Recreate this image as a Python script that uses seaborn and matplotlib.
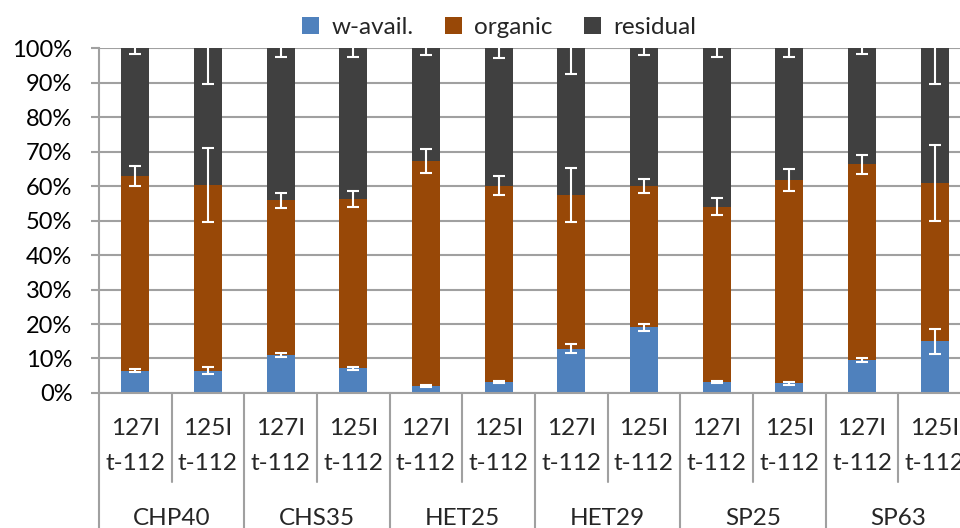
import numpy as np
import pandas as pd
import matplotlib.pyplot as plt
import seaborn as sns
from matplotlib.patches import Patch

# === DATA (percent of total) ===
groups = ["CHP40", "CHS35", "HET25", "HET29", "SP25", "SP63"]
isotopes = ["127I", "125I"]
sub_label = "t-112"

w_avail = [6.5, 6.5, 10.9, 7.2, 2.0, 3.2, 12.8, 19.1, 3.2, 2.8, 9.5, 15.0]
organic = [56.5, 53.8, 45.0, 49.0, 65.3, 56.9, 44.6, 40.9, 50.8, 58.9, 56.8, 45.8]
residual = [37.0, 39.7, 44.1, 43.8, 32.7, 39.9, 42.6, 40.0, 46.0, 38.3, 33.7, 39.2]

err_w = [0.5, 1.0, 0.6, 0.4, 0.3, 0.4, 1.3, 1.0, 0.4, 0.4, 0.5, 3.6]
err_org = [2.9, 10.7, 2.2, 2.4, 3.5, 2.8, 7.7, 2.1, 2.5, 3.1, 2.8, 11.0]
err_res = [1.8, 10.5, 2.5, 2.5, 2.0, 2.8, 7.6, 2.0, 2.5, 2.5, 1.7, 10.5]

colors = {"w-avail.": "#4F81BD", "organic": "#984807", "residual": "#404040"}
grid_col = "#A0A0A0"

# === BUILD TABLE ===
df = pd.DataFrame({
    "group": np.repeat(groups, len(isotopes)),
    "isotope": isotopes * len(groups),
    "w-avail.": w_avail,
    "organic": organic,
    "residual": residual,
})
df["sample"] = df["group"] + " " + df["isotope"]
df["top_w"] = df["w-avail."]
df["top_org"] = df["top_w"] + df["organic"]
df["top_res"] = df["top_org"] + df["residual"]

sns.set_theme(style="white")
plt.rcParams["font.family"] = ["Lato", "DejaVu Sans"]

fig = plt.figure(figsize=(9.6, 5.28), dpi=100)
ax = fig.add_axes([0.103, 0.2557, 0.9085, 0.6533])

# stacked bars: draw tallest first, then overlay
for col, key in [("top_res", "residual"), ("top_org", "organic"), ("top_w", "w-avail.")]:
    sns.barplot(data=df, x="sample", y=col, color=colors[key], saturation=1,
                width=0.385, linewidth=0, ax=ax, errorbar=None)

xs = np.arange(len(df))
for tops, errs in [(df["top_w"], err_w), (df["top_org"], err_org), (df["top_res"], err_res)]:
    ax.errorbar(xs, tops, yerr=errs, fmt="none", ecolor="white",
                elinewidth=1.5, capsize=4, capthick=1.5, zorder=5)

# axes styling
ax.set_xlim(-0.5, len(df) - 0.5)
ax.set_ylim(0, 100)
ax.set_yticks(range(0, 101, 10))
ax.set_yticklabels([f"{v}%" for v in range(0, 101, 10)])
ax.yaxis.grid(True, color=grid_col, linewidth=1.5)
ax.set_axisbelow(True)
ax.set_xlabel("")
ax.set_ylabel("")
ax.set_xticks([])
for s in ["top", "right"]:
    ax.spines[s].set_visible(False)
for s in ["left", "bottom"]:
    ax.spines[s].set_color(grid_col)
    ax.spines[s].set_linewidth(1.5)
ax.tick_params(axis="y", length=6, width=1.5, color=grid_col, pad=13,
               labelsize=17, labelcolor="black", left=True)

# two-level category axis
tr = ax.get_xaxis_transform()
for k in range(len(df) + 1):
    yend = -0.5 if k % 2 == 0 else -0.258
    ax.plot([k - 0.5, k - 0.5], [0, yend], transform=tr, color=grid_col,
            linewidth=1.5, clip_on=False)
for i, iso in enumerate(df["isotope"]):
    ax.text(i, -0.104, iso, transform=tr, ha="center", va="center", fontsize=17.5)
    ax.text(i, -0.203, sub_label, transform=tr, ha="center", va="center", fontsize=17.5)
for g, name in enumerate(groups):
    ax.text(2 * g + 0.5, -0.365, name, transform=tr, ha="center", va="center", fontsize=17.5)

handles = [Patch(facecolor=colors[k], edgecolor="none") for k in colors]
fig.legend(handles, list(colors), loc="upper center", bbox_to_anchor=(0.52, 1.01),
           ncol=3, frameon=False, fontsize=17.5, handlelength=0.7, handleheight=0.7,
           columnspacing=1.3, handletextpad=0.5)

fig.savefig("out.png", dpi=100)
